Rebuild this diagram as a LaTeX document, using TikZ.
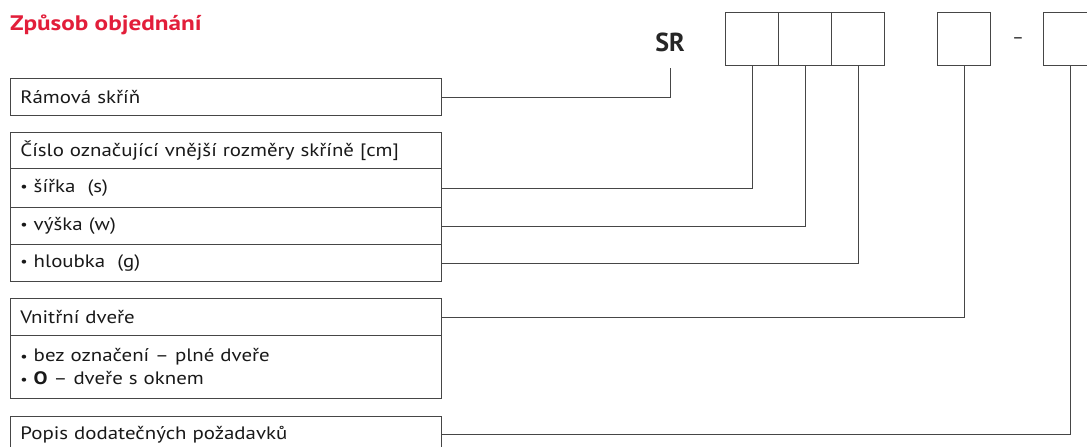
\documentclass[tikz,border=0pt]{standalone}
\usepackage{fontspec}
\setmainfont{PT Sans}
\newfontfamily\bodyfont[FakeStretch=1.16]{PT Sans}
\newfontfamily\titlefont[FakeStretch=1.2]{PT Sans}
\newcommand\mybul{\raisebox{0.8pt}{\fontsize{14}{14}\selectfont•}}
\definecolor{titlered}{RGB}{226,30,58}
\definecolor{linegray}{RGB}{70,70,70}
\begin{document}
\begin{tikzpicture}[x=1pt,y=-1pt,
  lbox/.style={draw=linegray, line width=0.8pt, anchor=north west, minimum width=431pt,
    text width=411pt, inner xsep=10pt, inner ysep=0pt, align=left,
    font=\bodyfont\fontsize{18}{23}\selectfont, text=black!90},
  cbox/.style={draw=linegray, line width=0.8pt, anchor=north west, minimum width=53pt,
    minimum height=53pt, inner sep=0pt},
  conn/.style={draw=linegray, line width=0.8pt}]
\useasboundingbox (0,0) rectangle (1087,447);
\node[anchor=base west, inner sep=0pt, text=titlered, font=\titlefont\fontsize{21}{24}\selectfont\bfseries] (title) at (10,30) {Způsob objednání};
\node[inner sep=0pt, minimum height=52pt, font=\fontsize{26}{30}\selectfont\bfseries, text=black!85] (sr) at (670,42) {SR};
\node[cbox] (b1) at (725,12) {};
\node[cbox] (b2) at (778,12) {};
\node[cbox] (b3) at (831,12) {};
\node[cbox] (b4) at (937,12) {};
\node[inner sep=0pt, font=\fontsize{18}{20}\selectfont, text=black!85] (dash) at (1018,41) {–};
\node[cbox] (b5) at (1043,12) {};
\node[lbox, minimum height=37pt] (ram) at (10,78) {Rámová skříň};
\node[lbox, minimum height=36pt] (cislo) at (10,132) {Číslo označující vnější rozměry skříně [cm]};
\node[lbox, minimum height=39pt] (sirka) at (10,168) {\mybul\ šířka\ \ (s)};
\node[lbox, minimum height=37pt] (vyska) at (10,207) {\mybul\ výška (w)};
\node[lbox, minimum height=37pt] (hloubka) at (10,244) {\mybul\ hloubka\ \ (g)};
\node[lbox, minimum height=37pt] (vnitrni) at (10,298) {Vnitřní dveře};
\node[lbox, minimum height=63pt] (varianty) at (10,335) {\mybul\ bez označení – plné dveře\\\mybul\ \textbf{O} – dveře s oknem};
\node[lbox, minimum height=36pt] (popis) at (10,416) {Popis dodatečných požadavků};
\draw[conn] (ram.east) -| (sr.south);
\draw[conn] (sirka.east) -| (b1.south);
\draw[conn] (vyska.east) -| (b2.south);
\draw[conn] (hloubka.east) -| (b3.south);
\draw[conn] (vnitrni.east) -| (b4.south);
\draw[conn] (popis.east) -| (b5.south);
\end{tikzpicture}
\end{document}
